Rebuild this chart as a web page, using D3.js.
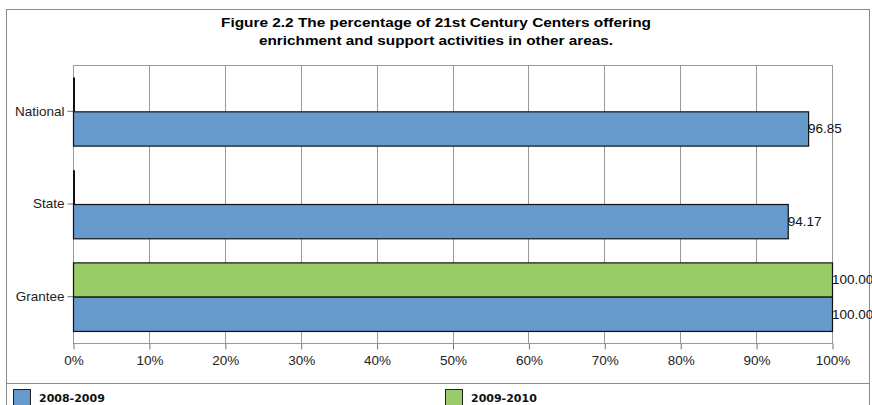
<!DOCTYPE html>
<html>
<head>
<meta charset="utf-8">
<script src="https://cdn.jsdelivr.net/npm/d3@7"></script>
<style>
  html, body { margin: 0; padding: 0; background: #fff; }
  svg { display: block; }
</style>
</head>
<body>
<svg id="chart" width="872" height="405"></svg>
<script>
const titleLines = ["Figure 2.2 The percentage of 21st Century Centers offering",
                    "enrichment and support activities in other areas."];
const categories = ["National", "State", "Grantee"];
const seriesNames = ["2008-2009", "2009-2010"];
const values2008 = [96.85, 94.17, 100.00];
const values2009 = [0, 0, 100.00];
const seriesColors = ["#6699cc", "#99cc66"];
const xTicks = [0, 10, 20, 30, 40, 50, 60, 70, 80, 90, 100];

const svg = d3.select("#chart");
const font = "Liberation Sans, Arial, sans-serif";

// outer frame
svg.append("rect").attr("x", 6.5).attr("y", 9.5).attr("width", 863).attr("height", 400)
  .attr("fill", "#fff").attr("stroke", "#8c8c8c").attr("stroke-width", 1);

// title (horizontally stretched like the original renderer)
const titleWidths = [430, 354];
svg.append("g").selectAll("text").data(titleLines).join("text")
  .attr("x", 436).attr("y", (d, i) => 27 + i * 18)
  .attr("text-anchor", "middle")
  .attr("textLength", (d, i) => titleWidths[i]).attr("lengthAdjust", "spacingAndGlyphs")
  .attr("font-family", font).attr("font-weight", "bold").attr("font-size", 13)
  .attr("fill", "#000").text(d => d);

const plot = { left: 73, right: 832, top: 65, bottom: 343 };

const x = d3.scaleLinear().domain([0, 100]).range([plot.left, plot.right]);
const y = d3.scaleBand().domain(categories).range([plot.top, plot.bottom])
  .paddingInner(0.26).paddingOuter(0.13);
// green (2009-2010) on top, blue (2008-2009) below
const ySub = d3.scaleBand().domain([seriesNames[1], seriesNames[0]]).range([0, y.bandwidth()]);

// grid lines
svg.append("g").selectAll("line").data(xTicks).join("line")
  .attr("x1", d => Math.round(x(d)) + 0.5).attr("x2", d => Math.round(x(d)) + 0.5)
  .attr("y1", plot.top).attr("y2", plot.bottom)
  .attr("stroke", "#999").attr("stroke-width", 1);

// plot frame
svg.append("rect").attr("x", plot.left + 0.5).attr("y", plot.top + 0.5)
  .attr("width", plot.right - plot.left).attr("height", plot.bottom - plot.top)
  .attr("fill", "none").attr("stroke", "#999");

// x axis
const xAxis = svg.append("g").attr("transform", `translate(0.5,${plot.bottom + 0.5})`)
  .call(d3.axisBottom(x).tickValues(xTicks).tickFormat(d => d + "%").tickSize(6).tickPadding(6));
xAxis.select(".domain").remove();
xAxis.selectAll(".tick line").attr("stroke", "#777");
xAxis.selectAll("text").attr("font-family", font).attr("font-size", 13.5).attr("fill", "#222");

// y axis
const yAxis = svg.append("g").attr("transform", `translate(${plot.left + 0.5},0)`)
  .call(d3.axisLeft(y).tickSize(6).tickPadding(3));
yAxis.select(".domain").remove();
yAxis.selectAll(".tick line").attr("stroke", "#777");
yAxis.selectAll("text").attr("font-family", font).attr("font-size", 13.5).attr("fill", "#222");

// bars
const rows = categories.map((c, i) => ({ cat: c, vals: [
  { s: seriesNames[1], v: values2009[i], color: seriesColors[1] },
  { s: seriesNames[0], v: values2008[i], color: seriesColors[0] }
]}));

const groups = svg.append("g").selectAll("g").data(rows).join("g")
  .attr("transform", d => `translate(0,${y(d.cat)})`);

groups.selectAll("rect").data(d => d.vals.filter(v => v.v > 0)).join("rect")
  .attr("x", x(0) + 0.5)
  .attr("y", d => ySub(d.s) + 0.5)
  .attr("width", d => x(d.v) - x(0))
  .attr("height", ySub.bandwidth())
  .attr("fill", d => d.color)
  .attr("stroke", "#111").attr("stroke-width", 1.2);

// zero-valued bars collapse to their outline
groups.selectAll("line.zero").data(d => d.vals.filter(v => v.v === 0)).join("line")
  .attr("class", "zero")
  .attr("x1", x(0) + 1).attr("x2", x(0) + 1)
  .attr("y1", d => ySub(d.s) + 0.5)
  .attr("y2", d => ySub(d.s) + ySub.bandwidth() + 0.5)
  .attr("stroke", "#111").attr("stroke-width", 2);

// value labels (skip zeros)
groups.selectAll("text").data(d => d.vals.filter(v => v.v > 0)).join("text")
  .attr("x", d => x(d.v) + 0)
  .attr("y", d => ySub(d.s) + ySub.bandwidth() / 2)
  .attr("dy", "0.35em")
  .attr("font-family", font).attr("font-size", 13.5).attr("fill", "#111")
  .text(d => d3.format(".2f")(d.v));

// legend
svg.append("line").attr("x1", 6).attr("x2", 870).attr("y1", 383.5).attr("y2", 383.5)
  .attr("stroke", "#8c8c8c");
const legendX = [13, 445];
const legend = svg.append("g").selectAll("g").data(seriesNames).join("g")
  .attr("transform", (d, i) => `translate(${legendX[i]},389)`);
legend.append("rect").attr("x", 0.5).attr("y", 0.5).attr("width", 17).attr("height", 17)
  .attr("fill", (d, i) => seriesColors[i]).attr("stroke", "#222");
legend.append("text").attr("x", 26).attr("y", 9).attr("dy", "0.35em")
  .attr("font-family", "DejaVu Sans, Verdana, sans-serif").attr("font-weight", "bold")
  .attr("font-size", 11).attr("fill", "#111").text(d => d);
</script>
</body>
</html>
